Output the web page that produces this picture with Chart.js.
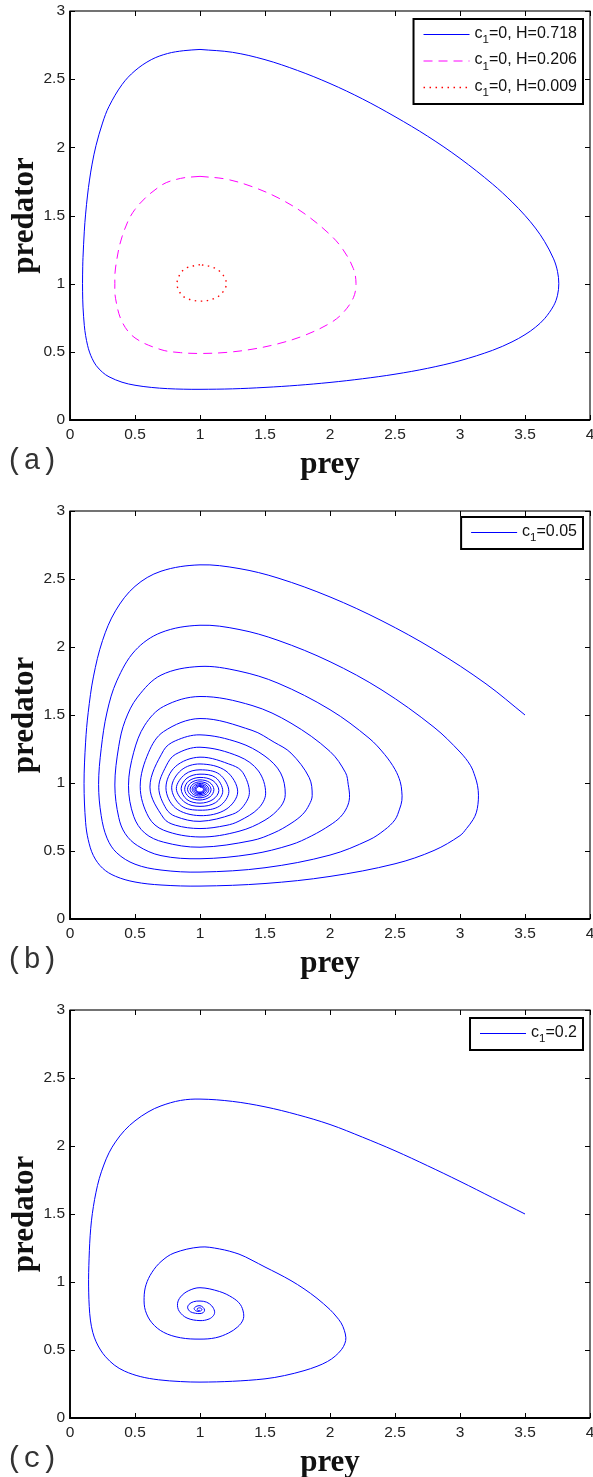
<!DOCTYPE html>
<html>
<head>
<meta charset="utf-8">
<script src="https://cdn.jsdelivr.net/npm/chart.js@4.4.1/dist/chart.umd.min.js"></script>
<style>
html,body{margin:0;padding:0;background:#fff;overflow:hidden;width:593px;height:1477px;}
canvas{position:absolute;left:0;}
</style>
</head>
<body>
<canvas id="ca" width="593" height="499" style="top:0px"></canvas>
<canvas id="cb" width="593" height="499" style="top:499px"></canvas>
<canvas id="cc" width="593" height="499" style="top:998px"></canvas>
<script>
// ---------- tick values ----------
const X_TICKS = [0, 0.5, 1, 1.5, 2, 2.5, 3, 3.5, 4];
const Y_TICKS = [0, 0.5, 1, 1.5, 2, 2.5, 3];
const X_TITLE = 'prey';
const Y_TITLE = 'predator';
const PANEL_LABELS = ['(a)', '(b)', '(c)'];

// ---------- series names ----------
const SERIES_A = ['c\u2081=0, H=0.718', 'c\u2081=0, H=0.206', 'c\u2081=0, H=0.009'];
const SERIES_B = ['c\u2081=0.05'];
const SERIES_C = ['c\u2081=0.2'];

// ---------- panel (a): closed orbits [prey, predator] ----------
const orbitH0718 = [
[1,2.718],[0.875,2.709],[0.75,2.688],[0.625,2.643],[0.5,2.562],[0.4,2.46],[0.3,2.30],[0.25,2.178],
[0.2,2.013],[0.17,1.877],[0.15,1.76],[0.135,1.65],[0.12,1.51],[0.11,1.385],[0.1,1.193],[0.098,1.128],
[0.0965,1.0],[0.098,0.881],[0.1,0.828],[0.11,0.694],[0.12,0.62],[0.135,0.548],[0.15,0.498],[0.17,0.4515],
[0.2,0.401],[0.25,0.35],[0.3,0.317],[0.4,0.2772],[0.5,0.255],[0.625,0.239],[0.75,0.230],[0.875,0.226],
[1,0.225],[1.25,0.2285],[1.5,0.239],[1.75,0.2545],[2.0,0.2755],[2.25,0.3025],[2.5,0.336],[2.75,0.379],
[3.0,0.435],[3.25,0.511],[3.4,0.573],[3.5,0.626],[3.58,0.68],[3.65,0.743],[3.72,0.838],[3.75,0.915],
[3.76,1.0],[3.75,1.09],[3.72,1.182],[3.65,1.31],[3.58,1.408],[3.5,1.5],[3.4,1.60],[3.25,1.731],
[3.0,1.919],[2.75,2.082],[2.5,2.225],[2.25,2.355],[2.0,2.468],[1.75,2.564],[1.5,2.643],[1.25,2.697],[1,2.718]
];
const orbitH0206 = [
[1,1.787],[0.85,1.772],[0.7,1.72],[0.5,1.545],[0.4,1.343],[0.35,1.115],[0.345,1.0],[0.35,0.893],
[0.4,0.721],[0.5,0.602],[0.7,0.516],[0.85,0.494],[1,0.488],[1.2,0.4955],[1.4,0.519],[1.6,0.559],
[1.8,0.619],[2.0,0.71],[2.1,0.786],[2.18,0.897],[2.2,1.0],[2.18,1.11],[2.1,1.25],[2.0,1.36],
[1.8,1.516],[1.6,1.63],[1.4,1.712],[1.2,1.767],[1,1.787]
];
const orbitH0009 = [
[1,1.14],[0.9,1.117],[0.85,1.076],[0.823,1.0],[0.85,0.928],[0.9,0.891],[1,0.872],[1.1,0.888],
[1.17,0.931],[1.203,1.0],[1.17,1.073],[1.1,1.12],[1,1.14]
];

// ---------- panel (b): trajectory c1 = 0.05 ----------
const trajC005 = [
[3.5,1.5],[3.2,1.729],[2.8,1.981],[2.4,2.192],[2.0,2.368],[1.6,2.507],[1.3,2.577],[1.0,2.604],
[0.7,2.557],[0.5,2.446],[0.35,2.266],[0.25,2.047],[0.18,1.78],[0.14,1.518],[0.12,1.30],[0.108,0.995],
[0.12,0.711],[0.14,0.584],[0.18,0.466],[0.25,0.374],[0.35,0.314],[0.5,0.272],[0.7,0.250],[1.0,0.242],
[1.5,0.261],[2.0,0.313],[2.5,0.406],[2.8,0.504],[3.0,0.613],[3.05,0.665],[3.1,0.73],[3.125,0.781],
[3.138,0.843],[3.142,0.91],[3.135,0.98],[3.115,1.05],[3.08,1.13],[3.0,1.228],[2.8,1.41],[2.4,1.683],
[2.0,1.892],[1.6,2.049],[1.3,2.129],[1.0,2.16],
[0.7,2.106],[0.5,1.973],[0.36,1.751],[0.285,1.522],[0.24,1.252],[0.22,0.99],[0.24,0.76],[0.285,0.594],
[0.36,0.486],[0.5,0.403],[0.7,0.36],[1.0,0.345],
[1.5,0.377],[2.0,0.47],[2.3,0.581],[2.42,0.655],[2.5,0.73],[2.535,0.808],[2.553,0.872],[2.552,0.94],
[2.54,1.01],[2.5,1.10],[2.42,1.21],[2.3,1.33],[2.0,1.539],[1.6,1.734],[1.3,1.823],[1.0,1.857],
[0.7,1.793],[0.52,1.632],[0.425,1.461],[0.375,1.27],[0.345,0.985],[0.375,0.746],[0.425,0.627],[0.52,0.539],
[0.7,0.466],[1.0,0.443],
[1.4,0.477],[1.7,0.546],[1.86,0.612],[2.0,0.69],[2.08,0.75],[2.13,0.82],[2.15,0.893],[2.14,0.99],
[2.12,1.075],[2.0,1.232],[1.7,1.44],[1.4,1.57],[1.0,1.636],
[0.72,1.563],[0.575,1.425],[0.49,1.226],[0.45,0.98],[0.49,0.755],[0.575,0.632],[0.72,0.565],[1.0,0.528],
[1.4,0.577],[1.57,0.634],[1.7,0.703],[1.79,0.77],[1.84,0.84],[1.863,0.907],[1.84,1.04],[1.7,1.22],
[1.57,1.30],[1.4,1.387],[1.0,1.474],
[0.72,1.378],[0.605,1.226],[0.54,0.975],[0.605,0.749],[0.72,0.653],[1.0,0.603],[1.3,0.645],[1.5,0.727],
[1.62,0.826],[1.656,0.917],[1.62,1.074],[1.5,1.197],[1.3,1.297],[1.0,1.354],
[0.81,1.31],[0.72,1.24],[0.615,0.97],[0.72,0.742],[0.81,0.69],[1.0,0.665],[1.2,0.688],[1.3,0.72],
[1.45,0.814],[1.505,0.925],[1.45,1.088],[1.3,1.195],[1.0,1.263],
[0.81,1.21],[0.74,1.126],[0.683,0.967],[0.74,0.81],[0.81,0.755],[1.0,0.718],[1.25,0.77],[1.33,0.825],
[1.38,0.93],[1.33,1.076],[1.25,1.13],[1.0,1.19],
[0.81,1.12],[0.738,0.965],[0.81,0.817],[1.0,0.76],[1.2,0.806],[1.29,0.935],[1.2,1.088],[1.0,1.14],
[0.855,1.094],[0.782,0.965],[0.855,0.833],[1.0,0.80],[1.15,0.83],[1.222,0.938],[1.15,1.064],[1.0,1.097],
[0.885,1.064],[0.818,0.96],[0.885,0.857],[1.0,0.828],[1.12,0.856],[1.175,0.94],[1.12,1.04],[1.0,1.065],
[0.9,1.036],[0.855,0.958],[0.9,0.878],[1.0,0.852],[1.1,0.879],[1.145,0.945],[1.1,1.017],[1.0,1.041],
[0.912,1.0135],[0.882,0.953],[0.917,0.896],[1.0,0.875],[1.078,0.899],[1.107,0.953],[1.074,1.004],[1.0,1.023],
[0.930,1.001],[0.904,0.953],[0.934,0.908],[1.0,0.891],[1.062,0.910],[1.085,0.953],[1.059,0.993],[1.0,1.0085],
[0.945,0.991],[0.924,0.953],[0.948,0.917],[1.0,0.904],[1.049,0.919],[1.068,0.953],[1.046,0.985],[1.0,0.997],
[0.956,0.983],[0.940,0.953],[0.959,0.924],[1.0,0.914],[1.039,0.926],[1.054,0.953],[1.037,0.978],[1.0,0.988],
[0.965,0.977],[0.952,0.953],[0.967,0.930],[1.0,0.922],[1.031,0.932],[1.043,0.953],[1.029,0.973],[1.0,0.981],
[0.972,0.972],[0.962,0.953],[0.974,0.935],[1.0,0.928],[1.025,0.936],[1.034,0.953],[1.023,0.969],[1.0,0.975],
[0.978,0.968],[0.970,0.953],[0.979,0.939],[1.0,0.933],[1.020,0.9395],[1.027,0.953],[1.0185,0.966],[1.0,0.9705]
];

// ---------- panel (c): trajectory c1 = 0.2 ----------
const trajC02 = [
[3.5,1.5],[3.25,1.62],[3.0,1.74],[2.75,1.855],[2.5,1.965],[2.25,2.065],[2.0,2.158],[1.75,2.23],
[1.5,2.288],[1.25,2.328],[1.0,2.345],[0.85,2.335],[0.7,2.295],[0.6,2.25],[0.5,2.185],[0.42,2.115],
[0.35,2.03],[0.3,1.95],[0.26,1.86],[0.225,1.76],[0.2,1.66],[0.18,1.555],[0.165,1.45],[0.155,1.34],
[0.149,1.23],[0.145,1.12],[0.143,1.02],[0.144,0.92],[0.148,0.82],[0.157,0.72],[0.175,0.63],[0.201,0.56],
[0.235,0.5],[0.274,0.45],[0.34,0.39],[0.419,0.345],[0.54,0.305],[0.681,0.281],[0.85,0.268],[1.0,0.264],
[1.25,0.27],[1.5,0.288],[1.65,0.312],[1.8,0.348],[1.9,0.38],[1.98,0.415],[2.04,0.455],[2.09,0.505],
[2.115,0.55],[2.122,0.59],[2.11,0.645],[2.085,0.70],[2.045,0.75],[2.0,0.797],[1.9,0.88],[1.8,0.95],
[1.7,1.01],[1.6,1.062],[1.5,1.11],[1.4,1.16],[1.3,1.205],[1.15,1.243],[1.0,1.257],
[0.8,1.213],[0.7,1.15],[0.63,1.07],[0.585,0.98],[0.57,0.886],[0.58,0.79],[0.63,0.70],[0.72,0.63],
[0.85,0.59],[1.0,0.58],[1.12,0.59],[1.22,0.625],[1.29,0.67],[1.33,0.72],[1.335,0.77],[1.31,0.835],
[1.25,0.885],[1.15,0.93],[1.0,0.958],
[0.91,0.935],[0.85,0.89],[0.827,0.84],[0.84,0.785],[0.9,0.735],[1.0,0.716],[1.07,0.728],[1.105,0.755],
[1.112,0.785],[1.09,0.825],[1.05,0.852],[1.0,0.86],
[0.95,0.855],[0.915,0.835],[0.905,0.81],[0.925,0.782],[0.965,0.77],[1.0,0.768],[1.025,0.775],[1.035,0.793],
[1.025,0.812],[1.0,0.826],
[0.97,0.82],[0.955,0.805],[0.965,0.79],[0.985,0.784],[1.005,0.787],[1.015,0.797],[1.008,0.807],[0.995,0.81],
[0.98,0.805],[0.978,0.797],[0.99,0.79],[1.0,0.793]
];

// ---------- styling ----------
const SANS = '"Liberation Sans", Arial, Helvetica, sans-serif';
const SERIF = '"Liberation Serif", "Times New Roman", serif';
const MONO = '"Liberation Mono", "Courier New", monospace';
const TICK_FONT = 15.5;
const LEGEND_FONT = 16;

const toXY = arr => arr.map(p => ({x: p[0], y: p[1]}));

function labelParts(text) {
  const i = text.indexOf('\u2081');
  if (i < 0) return [text, '', ''];
  return [text.slice(0, i), '1', text.slice(i + 1)];
}
function measureLabel(ctx, text) {
  const [a, s, b] = labelParts(text);
  ctx.font = LEGEND_FONT + 'px ' + SANS;
  let w = ctx.measureText(a).width + ctx.measureText(b).width;
  ctx.font = (LEGEND_FONT * 0.72) + 'px ' + SANS;
  w += ctx.measureText(s).width;
  return w;
}
function drawLabel(ctx, text, x, baseline) {
  const [a, s, b] = labelParts(text);
  ctx.font = LEGEND_FONT + 'px ' + SANS;
  ctx.fillText(a, x, baseline); x += ctx.measureText(a).width;
  if (s) {
    ctx.font = (LEGEND_FONT * 0.72) + 'px ' + SANS;
    ctx.fillText(s, x, baseline + 5.5); x += ctx.measureText(s).width;
    ctx.font = LEGEND_FONT + 'px ' + SANS;
  }
  ctx.fillText(b, x, baseline);
}

const matlabPlugin = {
  id: 'matlabFrame',
  afterDraw(chart, args, opts) {
    const ctx = chart.ctx;
    const {left, right, top, bottom} = chart.chartArea;
    const xs = chart.scales.x, ys = chart.scales.y;
    ctx.save();
    // inward tick marks on all four sides
    ctx.strokeStyle = '#000';
    ctx.lineWidth = 1;
    const L = 5;
    ctx.beginPath();
    xs.ticks.forEach(t => {
      const px = Math.round(xs.getPixelForValue(t.value)) + 0.5;
      ctx.moveTo(px, bottom); ctx.lineTo(px, bottom - L);
      ctx.moveTo(px, top); ctx.lineTo(px, top + L);
    });
    ys.ticks.forEach(t => {
      const py = Math.round(ys.getPixelForValue(t.value)) + 0.5;
      ctx.moveTo(left, py); ctx.lineTo(left + L, py);
      ctx.moveTo(right, py); ctx.lineTo(right - L, py);
    });
    ctx.stroke();
    // box
    ctx.lineWidth = 1.1;
    ctx.strokeRect(left, top, right - left, bottom - top);
    ctx.lineWidth = 1.8;
    ctx.beginPath();
    ctx.moveTo(left, top); ctx.lineTo(left, bottom); ctx.lineTo(right, bottom);
    ctx.stroke();

    // legend (top right, boxed)
    const ds = chart.data.datasets;
    const rowH = 26.5;
    let textW = 0;
    ds.forEach(d => { textW = Math.max(textW, measureLabel(ctx, d.label)); });
    const padL = 10, lineLen = 46, gap = 5, padR = 6;
    const boxW = padL + lineLen + gap + textW + padR;
    const boxH = ds.length * rowH + 5.5;
    const bx = right - 7 - boxW;
    const by = top + opts.legendTop;
    ctx.fillStyle = '#fff';
    ctx.fillRect(bx, by, boxW, boxH);
    ctx.lineWidth = 2;
    ctx.strokeStyle = '#000';
    ctx.strokeRect(bx, by, boxW, boxH);
    ds.forEach((d, i) => {
      const cy = by + 13 + i * rowH;
      ctx.save();
      ctx.strokeStyle = d.borderColor;
      ctx.lineWidth = d.borderWidth;
      ctx.setLineDash(d.borderDash || []);
      ctx.beginPath();
      ctx.moveTo(bx + padL, cy + 2.5);
      ctx.lineTo(bx + padL + lineLen, cy + 2.5);
      ctx.stroke();
      ctx.restore();
      ctx.fillStyle = '#111';
      ctx.textBaseline = 'alphabetic';
      ctx.textAlign = 'left';
      drawLabel(ctx, d.label, bx + padL + lineLen + gap, cy + 5.6);
    });

    // panel label
    ctx.fillStyle = '#333';
    ctx.font = '29px ' + MONO;
    ctx.textAlign = 'left';
    ctx.textBaseline = 'alphabetic';
    ctx.fillText(opts.panel, 6, 469);
    ctx.restore();
  }
};

function makeChart(id, datasets, panel, padTop, legendTop) {
  return new Chart(document.getElementById(id), {
    type: 'scatter',
    data: {datasets},
    plugins: [matlabPlugin],
    options: {
      responsive: false,
      animation: false,
      events: [],
      layout: {padding: {top: padTop, right: 3, bottom: 0, left: 0}},
      plugins: {
        legend: {display: false},
        tooltip: {enabled: false},
        matlabFrame: {panel, legendTop}
      },
      elements: {point: {radius: 0}},
      scales: {
        x: {
          type: 'linear', min: 0, max: 4,
          afterBuildTicks: s => { s.ticks = X_TICKS.map(v => ({value: v})); },
          afterFit: s => { s.height = 79; s.paddingLeft = 0; s.paddingRight = 0; },
          grid: {display: false, drawTicks: false, tickLength: 0},
          border: {display: false},
          ticks: {padding: 5, color: '#222', autoSkip: false, maxRotation: 0,
                  font: {family: SANS, size: TICK_FONT}, callback: v => String(v)},
          title: {display: true, text: X_TITLE, color: '#111',
                  font: {family: SERIF, size: 31, weight: 'bold'},
                  padding: {top: 0, bottom: 15}}
        },
        y: {
          type: 'linear', min: 0, max: 3,
          afterBuildTicks: s => { s.ticks = Y_TICKS.map(v => ({value: v})); },
          afterFit: s => { s.width = 70; s.paddingTop = 0; s.paddingBottom = 0; },
          grid: {display: false, drawTicks: false, tickLength: 0},
          border: {display: false},
          ticks: {padding: 5, color: '#222', autoSkip: false,
                  font: {family: SANS, size: TICK_FONT}, callback: v => String(v)},
          title: {display: true, text: Y_TITLE, color: '#111',
                  font: {family: SERIF, size: 31, weight: 'bold'},
                  padding: {top: 6, bottom: 0}}
        }
      }
    }
  });
}

const lineDs = (label, pts, color, dash, width) => ({
  label, data: toXY(pts), showLine: true, borderColor: color, backgroundColor: color,
  borderWidth: width, borderDash: dash, pointRadius: 0, tension: 0.35, fill: false
});

makeChart('ca', [
  lineDs(SERIES_A[0], orbitH0718, '#0000ff', [], 1),
  lineDs(SERIES_A[1], orbitH0206, '#ff00ff', [9, 6], 1),
  lineDs(SERIES_A[2], orbitH0009, '#ff0000', [1.5, 4.5], 1.4)
], PANEL_LABELS[0], 11, 8);

makeChart('cb', [
  lineDs(SERIES_B[0], trajC005, '#0000ff', [], 1)
], PANEL_LABELS[1], 12, 6);

makeChart('cc', [
  lineDs(SERIES_C[0], trajC02, '#0000ff', [], 1)
], PANEL_LABELS[2], 12, 8);
</script>
</body>
</html>
